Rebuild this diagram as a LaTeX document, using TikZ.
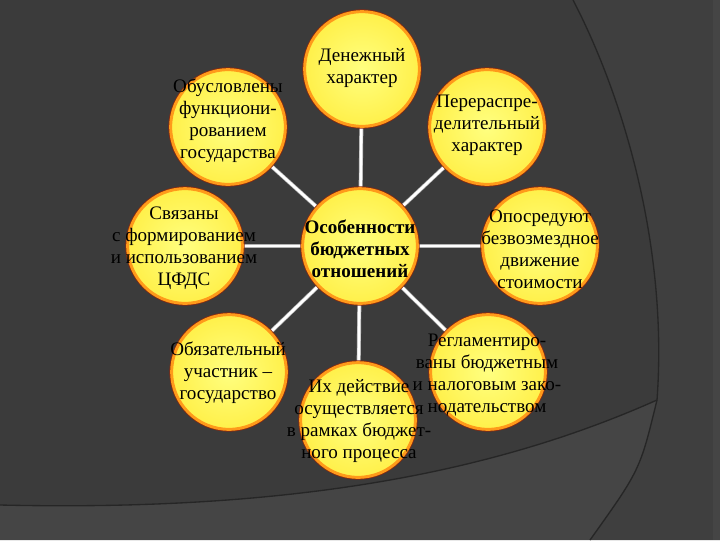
\documentclass[tikz,border=0pt]{standalone}
\usepackage{fontspec}
\setmainfont{Liberation Serif}
\definecolor{bgmain}{HTML}{3B3B3B}
\definecolor{bgright}{HTML}{3F3F3F}
\definecolor{bglow}{HTML}{454545}
\definecolor{bgline}{HTML}{262626}
\definecolor{fillin}{HTML}{FFFF80}
\definecolor{fillout}{HTML}{FFF04A}
\definecolor{rimor}{HTML}{FF9A1A}
\definecolor{rimdk}{HTML}{8A2A10}
\pgfdeclarelayer{bglayer}
\pgfsetlayers{bglayer,main}
\begin{document}
\begin{tikzpicture}[x=0.75pt,y=-0.75pt,
  bub/.style={circle, minimum size=86pt, inner sep=0pt, inner color=fillin, outer color=fillout,
    draw=rimor, line width=2.2pt, preaction={draw=rimdk, line width=3.4pt}},
  txt/.style={align=center, text=black, inner sep=0pt, font=\fontsize{14.3}{16.4}\selectfont},
  conn/.style={draw=white, line width=2pt, preaction={draw=gray!60, line width=3pt}}]
\useasboundingbox (0,0) rectangle (720,540);
% bubbles
\node[bub] (c)  at (360,246) {};
\node[bub] (t)  at (362,69) {};
\node[bub] (tl) at (228,127) {};
\node[bub] (tr) at (487,127) {};
\node[bub] (l)  at (185,246) {};
\node[bub] (r)  at (540,246) {};
\node[bub] (bl) at (229,372) {};
\node[bub] (b)  at (358,420) {};
\node[bub] (br) at (488,372) {};
% texts
\node[txt] (tc)  at (c)  [yshift=-2pt] {\textbf{Особенности}\\\textbf{бюджетных}\\\textbf{отношений}};
\node[txt] (tt)  at (362,68) {Денежный\\характер};
\node[txt] (ttl) at (228,121) {Обусловлены\\функциони-\\рованием\\государства};
\node[txt] (ttr) at (487,125) {Перераспре-\\делительный\\характер};
\node[txt] (tlft) at (184,248) {Связаны\\с формированием\\и использованием\\ЦФДС};
\node[txt] (trt) at (540,249) {Опосредуют\\безвозмездное\\движение\\стоимости};
\node[txt] (tbl) at (228,373) {Обязательный\\участник –\\государство};
\node[txt] (tb)  at (359,421) {Их действие\\осуществляется\\в рамках бюджет-\\ного процесса};
\node[txt] (tbr) at (487,375) {Регламентиро-\\ваны бюджетным\\и налоговым зако-\\нодательством};
\begin{pgfonlayer}{bglayer}
\fill[bgmain] (0,0) rectangle (720,540);
\fill[bgright] (573,0) .. controls (625,100) and (668,250) .. (657,400) .. controls (640,470) .. (590,540) -- (720,540) -- (720,0) -- cycle;
\fill[bglow] (0,505) .. controls (300,512) and (500,470) .. (657,400) .. controls (640,470) .. (590,540) -- (0,540) -- cycle;
\fill[bglow] (713,0) rectangle (720,540);
\draw[bgline, line width=1pt] (573,0) .. controls (625,100) and (668,250) .. (657,400) .. controls (640,470) .. (590,540);
\draw[bgline, line width=1pt] (0,505) .. controls (300,512) and (500,470) .. (657,400);
\foreach \n in {t,tl,tr,l,r,bl,b,br} {\draw[conn] (c.center) -- (\n.center);}
\end{pgfonlayer}
\end{tikzpicture}
\end{document}
